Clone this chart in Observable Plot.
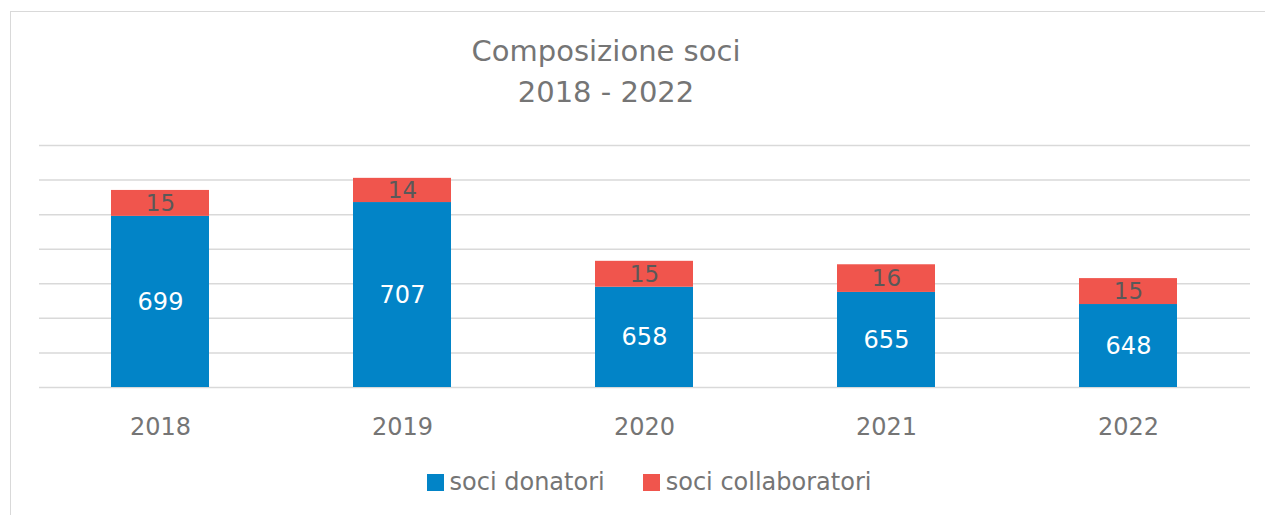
<!DOCTYPE html>
<html>
<head>
<meta charset="utf-8">
<script src="https://cdn.jsdelivr.net/npm/d3@7"></script>
<script src="https://cdn.jsdelivr.net/npm/@observablehq/plot@0.6"></script>
<style>
  html, body { margin: 0; padding: 0; background: #fff; }
  #wrap { position: relative; width: 1265px; height: 515px; overflow: hidden; font-family: "DejaVu Sans", sans-serif; }
  #frame { position: absolute; left: 10px; top: 11px; width: 1270px; height: 520px; border: 1.5px solid #d9d9d9; box-sizing: border-box; }
  #title { position: absolute; left: 356px; width: 500px; top: 31px; text-align: center; color: #757575; font-size: 29px; line-height: 41px; }
  #chart { position: absolute; left: 0; top: 0; }
  #legend { position: absolute; top: 468px; left: 0; width: 1265px; display: flex; justify-content: center; gap: 38px; padding-left: 33px; box-sizing: border-box; color: #757575; font-size: 24px; line-height: 28px; }
  .item { display: flex; align-items: center; gap: 6px; }
  .sw { width: 17px; height: 17px; display: inline-block; }
</style>
</head>
<body>
<div id="wrap">
  <div id="frame"></div>
  <div id="title">Composizione soci<br>2018 - 2022</div>
  <div id="chart"></div>
  <div id="legend"></div>
</div>
<script>
const years = ["2018", "2019", "2020", "2021", "2022"];
const donatori = [699, 707, 658, 655, 648];
const collaboratori = [15, 14, 15, 16, 15];
const seriesNames = ["soci donatori", "soci collaboratori"];
const seriesColors = ["#0284c7", "#f0554d"];
const yMin = 600, yMax = 740, yStep = 20;

const rows = [];
years.forEach((y, i) => {
  rows.push({year: y, series: seriesNames[0], value: donatori[i]});
  rows.push({year: y, series: seriesNames[1], value: collaboratori[i]});
});
const donLabels = years.map((y, i) => ({year: y, v: donatori[i], mid: (yMin + donatori[i]) / 2}));
const colLabels = years.map((y, i) => ({year: y, v: collaboratori[i], mid: donatori[i] + collaboratori[i] / 2}));
const gridTicks = d3.range(yMin, yMax + 1, yStep);

const plot = Plot.plot({
  width: 1265,
  height: 515,
  marginTop: 145,
  marginBottom: 128,
  marginLeft: 39,
  marginRight: 15,
  style: {fontFamily: "DejaVu Sans, sans-serif", background: "transparent"},
  x: {domain: years, paddingInner: 0.595, paddingOuter: 0.2975, label: null, tickSize: 0, tickPadding: 30},
  y: {domain: [yMin, yMax], axis: null},
  color: {domain: seriesNames, range: seriesColors},
  marks: [
    Plot.ruleY(gridTicks, {stroke: "#d9d9d9", strokeWidth: 1.5}),
    Plot.barY(rows, Plot.stackY({x: "year", y: "value", fill: "series", order: seriesNames, clip: true})),
    Plot.text(donLabels, {x: "year", y: "mid", text: d => String(d.v), fill: "white", fontSize: 24}),
    Plot.text(colLabels, {x: "year", y: "mid", text: d => String(d.v), fill: "#595959", fontSize: 23}),
    Plot.axisX({tickSize: 0, tickPadding: 30, fontSize: 24, fill: "#757575", label: null})
  ]
});
document.getElementById("chart").appendChild(plot);

const legend = document.getElementById("legend");
seriesNames.forEach((n, i) => {
  const it = document.createElement("div");
  it.className = "item";
  it.innerHTML = `<span class="sw" style="background:${seriesColors[i]}"></span><span>${n}</span>`;
  legend.appendChild(it);
});
</script>
</body>
</html>
